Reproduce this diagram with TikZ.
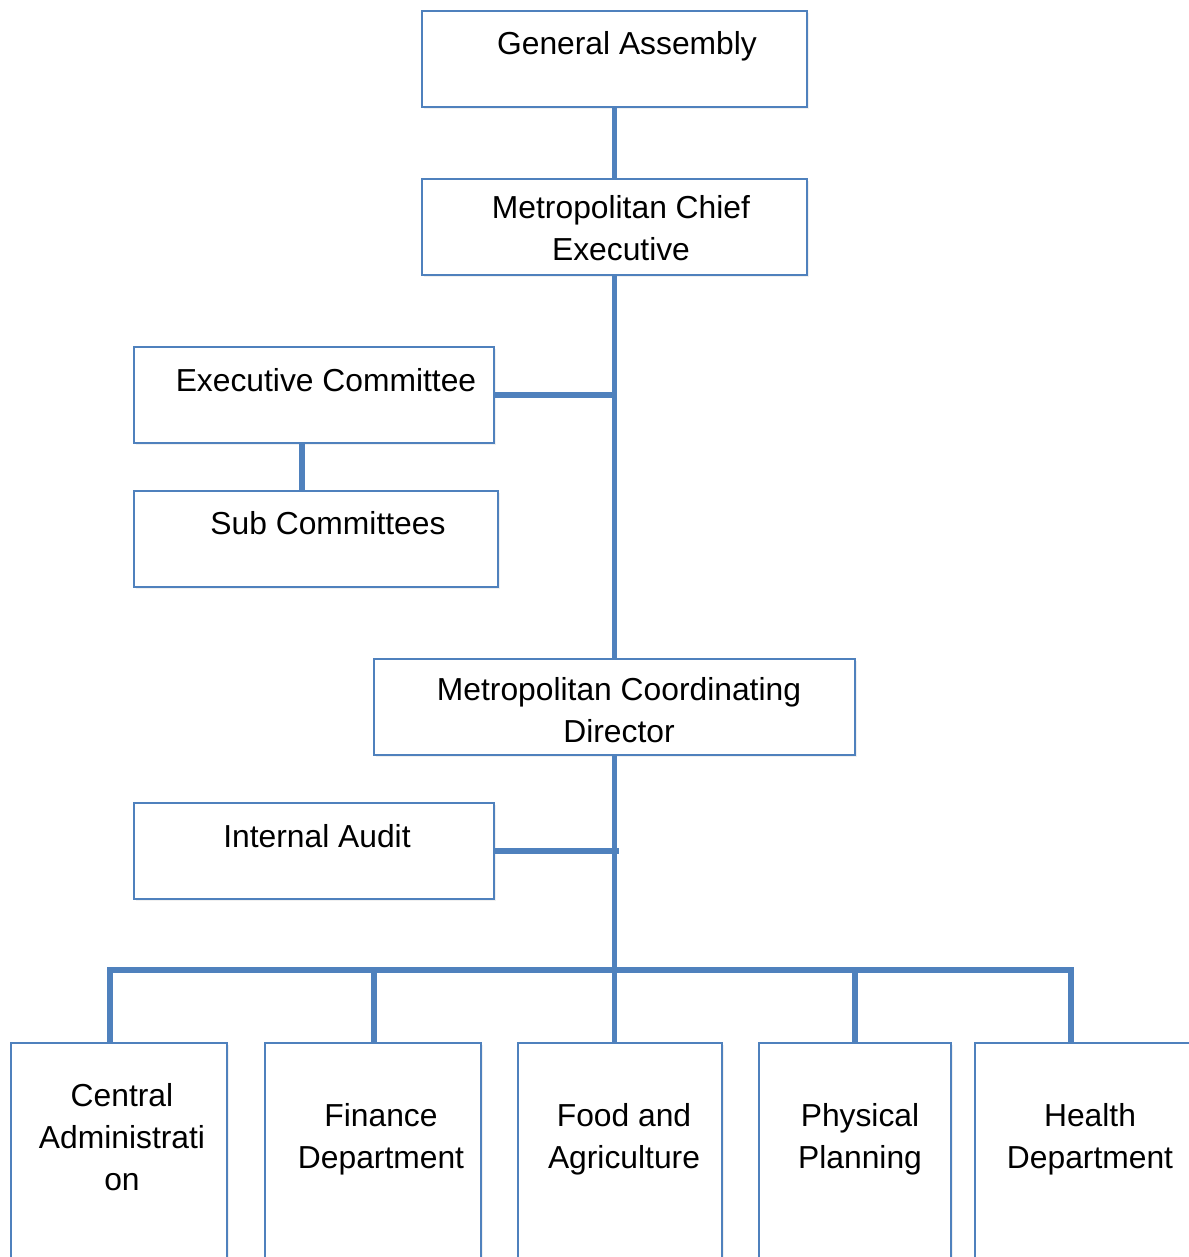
\documentclass[tikz,border=0pt]{standalone}
\usepackage{fontspec}
\setmainfont{Liberation Sans}
\usetikzlibrary{fit,shadows}
\definecolor{orgblue}{HTML}{4F81BD}

\begin{document}
\begin{tikzpicture}[x=0.5pt,y=-0.5pt]
	% `unit' is used for the boxes, `link' for the thick connectors.
	\tikzstyle{unit} = [draw=orgblue,line width=1.2pt,fill=white,inner sep=0pt,
		drop shadow={opacity=0.12,shadow xshift=1.2pt,shadow yshift=-1.2pt}]
	\tikzstyle{link} = [draw=orgblue,line width=2.6pt]
	\tikzstyle{label} = [align=center,anchor=base,inner sep=0pt,
		font=\fontsize{15.9}{21}\selectfont]
	\useasboundingbox (0,0) rectangle (1188,1257);
	%
	% Top of the chart (base of a label is its last line).
	\node[unit,fit={(422,11) (807,107)}] (assembly) {};
	\node[label] (assemblytxt) at (627,55) {General Assembly};
	\node[unit,fit={(422,179) (807,275)}] (chief) {};
	\node[label] (chieftxt) at (621,261) {Metropolitan Chief\\Executive};
	\node[unit,fit={(134,347) (494,443)}] (execcom) {};
	\node[label] (execcomtxt) at (326,391) {Executive Committee};
	\node[unit,fit={(134,491) (498,587)}] (subcom) {};
	\node[label] (subcomtxt) at (328,534) {Sub Committees};
	\node[unit,fit={(374,659) (855,755)}] (coord) {};
	\node[label] (coordtxt) at (619,742) {Metropolitan Coordinating\\Director};
	\node[unit,fit={(134,803) (494,899)}] (audit) {};
	\node[label] (audittxt) at (317,847) {Internal Audit};
	%
	% Departments (cut off at the bottom).
	\node[unit,fit={(11,1043) (227,1290)}] (central) {};
	\node[label] (centraltxt) at (122,1190) {Central\\Administrati\\on};
	\node[unit,fit={(265,1043) (481,1290)}] (finance) {};
	\node[label] (financetxt) at (381,1168) {Finance\\Department};
	\node[unit,fit={(518,1043) (722,1290)}] (food) {};
	\node[label] (foodtxt) at (624,1168) {Food and\\Agriculture};
	\node[unit,fit={(759,1043) (951,1290)}] (physical) {};
	\node[label] (physicaltxt) at (860,1168) {Physical\\Planning};
	\node[unit,fit={(975,1043) (1200,1290)}] (health) {};
	\node[label] (healthtxt) at (1090,1168) {Health\\Department};
	%
	% Bus above the departments.
	\coordinate (bus1) at (110,970);
	\coordinate (bus2) at (374,970);
	\coordinate (bus3) at (coord.south |- 0,970);
	\coordinate (bus4) at (855,970);
	\coordinate (bus5) at (1071,970);
	%
	% Draw lines.
	\draw[link] (assembly.south) -- (chief.north);
	\draw[link] (chief.south) -- (coord.north);
	\draw[link] (execcom.east) -- (execcom.east -| chief.south);
	\draw[link] ([xshift=-6pt]execcom.south) -- ([xshift=-6pt]execcom.south |- subcom.north);
	\draw[link] (audit.east) -- ([xshift=2pt]audit.east -| coord.south);
	\draw[link] (coord.south) -- (bus3);
	\draw[link] (bus1 |- central.north) -- (bus1) -- (bus5) -- (bus5 |- health.north);
	\draw[link] (bus2) -- (bus2 |- finance.north);
	\draw[link] (bus3) -- (bus3 |- food.north);
	\draw[link] (bus4) -- (bus4 |- physical.north);
\end{tikzpicture}
\end{document}
